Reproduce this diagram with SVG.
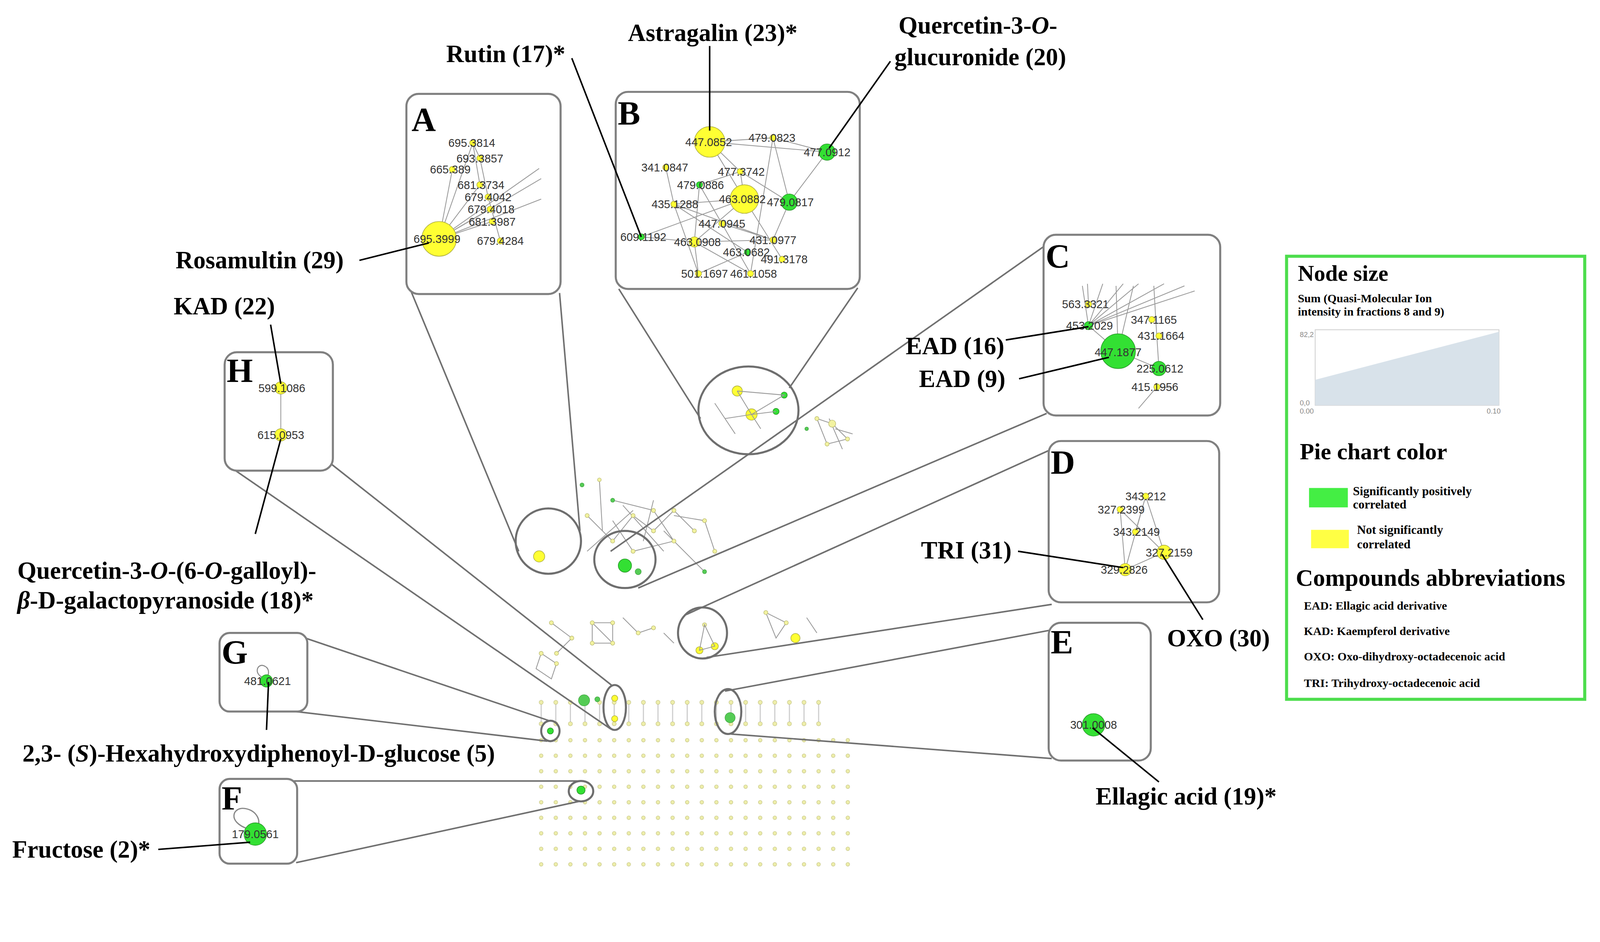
<svg xmlns="http://www.w3.org/2000/svg" width="4372" height="2412" viewBox="0 0 4372 2412">
<defs>
<style>
.pan{fill:#fff;stroke:#808080;stroke-width:2}
.mag{fill:none;stroke:#6e6e6e;stroke-width:2}
.tl{stroke:#707070;stroke-width:1.5;fill:none}
.ld{stroke:#000;stroke-width:1.5;fill:none}
.e{stroke:#999;stroke-width:0.8;fill:none}
.y{fill:#ffff33;stroke:#b0b040;stroke-width:0.6}
.g{fill:#33e033;stroke:#2a9a2a;stroke-width:0.6}
.sy{fill:#f2f2a0;stroke:#b8b870;stroke-width:0.5}
.sg{fill:#55cc55;stroke:#3a9a3a;stroke-width:0.4}
.lab{font-family:"Liberation Serif",serif;font-weight:bold;font-size:24px;fill:#000}
.pl{font-family:"Liberation Serif",serif;font-weight:bold;font-size:33px;fill:#000}
.nl{font-family:"Liberation Sans",Arial,sans-serif;font-size:11px;fill:#333;text-anchor:middle}
.lg{font-family:"Liberation Serif",serif;font-weight:bold;fill:#000}
.ax{font-family:"Liberation Sans",sans-serif;font-size:7px;fill:#888}
</style>
<pattern id="grid" x="525" y="720" width="14.3" height="15.2" patternUnits="userSpaceOnUse">
<circle cx="5" cy="5" r="1.8" fill="#eeeeaa" stroke="#bbbb77" stroke-width="0.4"/>
</pattern>
<pattern id="sticks" x="525" y="683" width="14.3" height="30" patternUnits="userSpaceOnUse">
<line x1="5" y1="5" x2="5" y2="26" stroke="#c8c8c8" stroke-width="1"/>
<circle cx="5" cy="5" r="2" fill="#eeeeaa" stroke="#bbbb77" stroke-width="0.4"/>
<circle cx="5" cy="26" r="2" fill="#eeeeaa" stroke="#bbbb77" stroke-width="0.4"/>
</pattern>
</defs>
<rect width="4372" height="2412" fill="#fff"/>
<g transform="scale(2.614)">
<g id="background">
<rect x="520" y="720" width="318" height="134" fill="url(#grid)"/>
<rect x="520" y="683" width="285" height="30" fill="url(#sticks)"/>
<g class="e">
<path d="M587,470 L590,520 M575,505 L600,530 L620,505 L640,520 L660,500 L680,520 M600,490 L640,500 L660,530 L620,540 L600,510 M610,495 L650,540 M640,490 L630,530 M575,540 L620,500 M660,505 L690,510 L700,540 M650,520 L690,560"/>
<path d="M800,410 L815,415 L830,430 L810,435 L800,410 M812,410 L825,440 M818,420 L835,425"/>
<path d="M540,610 L560,625 L545,640 M580,610 L600,610 L600,630 L580,630 Z M580,610 L600,630 M610,605 L625,620 L640,615 M750,600 L770,610 L760,625 Z M790,605 L800,620 M650,620 L660,630"/>
<path d="M530,640 L545,650 L540,665 L525,655 Z"/>
</g>
<g>
<circle class="sy" cx="587" cy="470" r="1.8"/><circle class="sy" cx="575" cy="505" r="2"/><circle class="sy" cx="600" cy="530" r="2"/>
<circle class="sy" cx="620" cy="505" r="2"/><circle class="sy" cx="640" cy="520" r="2"/><circle class="sy" cx="660" cy="500" r="2"/>
<circle class="sy" cx="680" cy="520" r="2"/><circle class="sg" cx="600" cy="490" r="2"/><circle class="sy" cx="640" cy="500" r="2"/>
<circle class="sy" cx="660" cy="530" r="2"/><circle class="sy" cx="620" cy="540" r="2"/><circle class="sy" cx="690" cy="510" r="2"/>
<circle class="sy" cx="700" cy="540" r="2"/><circle class="sg" cx="570" cy="475" r="2"/><circle class="sg" cx="690" cy="560" r="2"/>
<circle class="sy" cx="815" cy="415" r="3.5"/><circle class="sy" cx="830" cy="430" r="2"/><circle class="sy" cx="810" cy="435" r="2"/>
<circle class="sy" cx="800" cy="410" r="2"/><circle class="sg" cx="790" cy="420" r="1.8"/>
<circle class="sy" cx="540" cy="610" r="2"/><circle class="sy" cx="560" cy="625" r="2"/><circle class="sy" cx="545" cy="640" r="2"/>
<circle class="sy" cx="580" cy="610" r="2"/><circle class="sy" cx="600" cy="610" r="2"/><circle class="sy" cx="600" cy="630" r="2"/><circle class="sy" cx="580" cy="630" r="2"/>
<circle class="sy" cx="625" cy="620" r="2"/><circle class="sy" cx="640" cy="615" r="2"/><circle class="sy" cx="750" cy="600" r="2"/>
<circle class="sy" cx="770" cy="610" r="2"/><circle class="y" cx="779" cy="625" r="4.5"/><circle class="sg" cx="572" cy="686" r="5.5"/><circle class="sg" cx="585" cy="685" r="2.5"/>
<circle class="sy" cx="530" cy="640" r="2"/><circle class="sy" cx="545" cy="650" r="2"/>
<circle class="sg" cx="715" cy="703" r="5"/>
</g>
<circle class="y" cx="528" cy="545" r="5.5"/>
<circle class="g" cx="612" cy="554" r="6.5"/><circle class="sg" cx="625" cy="560" r="3"/>
<circle class="y" cx="722" cy="383" r="5"/><circle class="y" cx="736" cy="406" r="5.5"/><circle class="g" cx="768" cy="387" r="3"/><circle class="g" cx="760" cy="403" r="3"/>
<path class="e" d="M722,383 L768,387 L736,406 L760,403 M722,383 L736,406 M710,410 L736,406 L745,420 M700,395 L720,425"/>
<circle class="y" cx="685" cy="637" r="3.5"/><circle class="y" cx="700" cy="633" r="3.5"/><circle class="sy" cx="690" cy="612" r="2"/>
<path class="e" d="M690,612 L685,637 L700,633 Z"/>
<circle class="y" cx="602" cy="684" r="3"/><circle class="y" cx="602" cy="704" r="3"/>
<circle class="g" cx="539" cy="716" r="3"/>
<circle class="g" cx="569" cy="774" r="4"/>
</g>

<g id="connectors">
<ellipse class="mag" cx="537" cy="530" rx="32" ry="32"/>
<ellipse class="mag" cx="612" cy="548" rx="30" ry="28"/>
<ellipse class="mag" cx="733" cy="402" rx="49" ry="43"/>
<ellipse class="mag" cx="688" cy="620" rx="24" ry="25"/>
<ellipse class="mag" cx="602" cy="693" rx="11" ry="22"/>
<ellipse class="mag" cx="713" cy="697" rx="13" ry="22"/>
<ellipse class="mag" cx="539" cy="716" rx="9" ry="10"/>
<ellipse class="mag" cx="569" cy="775" rx="12" ry="10"/>
<path class="tl" d="M402,284 L508,540 M548,287 L568,520"/>
<path class="tl" d="M606,283 L686,410 M840,282 L773,380"/>
<path class="tl" d="M1030,236 L598,540 M1025,405 L625,576"/>
<path class="tl" d="M1030,440 L672,602 M1030,592 L692,644"/>
<path class="tl" d="M1030,617 L710,677 M1030,743 L716,719"/>
<path class="tl" d="M222,455 L598,714 M325,455 L600,672"/>
<path class="tl" d="M296,624 L538,706 M290,697 L536,726"/>
<path class="tl" d="M283,765 L566,765 M290,845 L567,785"/>
</g>

<g id="panelA">
<rect class="pan" x="398" y="92" width="151" height="196" rx="12"/>
<text class="pl" x="403" y="128">A</text>
<path class="e" d="M430,234 L463,140 L470,155 L478,193 L490,236 M430,234 L443,166 M430,234 L470,181 M430,234 L480,205 M430,234 L482,217 M430,234 L463,140 M430,234 L530,175 M430,234 L530,195 M430,234 L528,165 M463,140 L470,181"/>
<circle class="y" cx="430" cy="234" r="17"/>
<circle class="y" cx="463" cy="140" r="3"/><circle class="y" cx="470" cy="155" r="3"/><circle class="y" cx="443" cy="166" r="3"/>
<circle class="y" cx="470" cy="181" r="3"/><circle class="y" cx="478" cy="193" r="3"/><circle class="y" cx="480" cy="205" r="3"/>
<circle class="y" cx="482" cy="217" r="3"/><circle class="y" cx="490" cy="236" r="3"/>
<text class="nl" x="462" y="144">695.3814</text><text class="nl" x="470" y="159">693.3857</text><text class="nl" x="441" y="170">665.389</text>
<text class="nl" x="471" y="185">681.3734</text><text class="nl" x="478" y="197">679.4042</text><text class="nl" x="481" y="209">679.4018</text>
<text class="nl" x="482" y="221">681.3987</text><text class="nl" x="490" y="240">679.4284</text><text class="nl" x="428" y="238">695.3999</text>
</g>

<g id="panelB">
<rect class="pan" x="603" y="90" width="239" height="193" rx="12"/>
<text class="pl" x="605" y="122">B</text>
<path class="e" d="M695,139 L757,135 L810,149 M695,139 L810,149 M695,139 L725,168 L729,195 M695,139 L729,195 M757,135 L773,198 M757,135 L735,268 M810,149 L773,198 M725,168 L685,181 M725,168 L773,198 M685,181 L680,237 M685,181 L707,219 M660,200 L729,195 M660,200 L757,235 M660,200 L732,247 M628,232 L729,195 M628,232 L680,237 L757,235 M680,237 L729,195 M707,219 L757,235 M707,219 L735,268 M729,195 L766,254 M729,195 L680,237 M732,247 L684,268 M680,237 L735,268 M652,164 L660,200 M773,198 L757,235 M684,268 L680,237 M660,200 L684,268"/>
<circle class="y" cx="695" cy="139" r="15"/><circle class="y" cx="757" cy="135" r="3"/><circle class="g" cx="810" cy="149" r="8"/>
<circle class="y" cx="652" cy="164" r="3"/><circle class="y" cx="725" cy="168" r="3"/><circle class="g" cx="685" cy="181" r="3"/>
<circle class="y" cx="729" cy="195" r="14"/><circle class="g" cx="773" cy="198" r="8"/><circle class="y" cx="660" cy="200" r="3"/>
<circle class="y" cx="707" cy="219" r="3"/><circle class="g" cx="628" cy="232" r="3"/><circle class="y" cx="680" cy="237" r="5"/>
<circle class="y" cx="757" cy="235" r="3"/><circle class="g" cx="732" cy="247" r="3"/><circle class="y" cx="766" cy="254" r="3"/>
<circle class="y" cx="684" cy="268" r="3"/><circle class="y" cx="735" cy="268" r="3"/>
<text class="nl" x="694" y="143">447.0852</text><text class="nl" x="756" y="139">479.0823</text><text class="nl" x="810" y="153">477.0912</text>
<text class="nl" x="651" y="168">341.0847</text><text class="nl" x="726" y="172">477.3742</text><text class="nl" x="686" y="185">479.0886</text>
<text class="nl" x="727" y="199">463.0882</text><text class="nl" x="774" y="202">479.0817</text><text class="nl" x="661" y="204">435.1288</text>
<text class="nl" x="707" y="223">447.0945</text><text class="nl" x="630" y="236">609.1192</text><text class="nl" x="683" y="241">463.0908</text>
<text class="nl" x="757" y="239">431.0977</text><text class="nl" x="731" y="251">463.0682</text><text class="nl" x="768" y="258">491.3178</text>
<text class="nl" x="690" y="272">501.1697</text><text class="nl" x="738" y="272">461.1058</text>
</g>

<g id="panelC">
<rect class="pan" x="1022" y="230" width="173" height="177" rx="12"/>
<text class="pl" x="1024" y="262">C</text>
<path class="e" d="M1066,319 L1060,280 M1066,319 L1080,278 M1066,319 L1100,278 M1066,319 L1115,278 M1066,319 L1140,278 M1066,319 L1160,280 M1066,319 L1170,285 M1066,298 L1065,278 M1095,344 L1093,280 M1095,344 L1110,280 M1132,315 L1130,280 M1135,361 L1132,315 M1135,361 L1095,344 M1133,379 L1115,400 M1133,379 L1150,380 M1066,319 L1095,344"/>
<circle class="y" cx="1066" cy="298" r="3"/><circle class="g" cx="1066" cy="319" r="4"/><circle class="g" cx="1095" cy="344" r="17"/>
<circle class="y" cx="1128" cy="313" r="3"/><circle class="y" cx="1135" cy="329" r="3"/><circle class="g" cx="1135" cy="361" r="7"/><circle class="y" cx="1133" cy="379" r="3"/>
<text class="nl" x="1063" y="302">563.3321</text><text class="nl" x="1067" y="323">453.2029</text><text class="nl" x="1095" y="349">447.1877</text>
<text class="nl" x="1130" y="317">347.1165</text><text class="nl" x="1137" y="333">431.1664</text><text class="nl" x="1136" y="365">225.0612</text><text class="nl" x="1131" y="383">415.1956</text>
</g>

<g id="panelD">
<rect class="pan" x="1027" y="432" width="167" height="158" rx="12"/>
<text class="pl" x="1029" y="464">D</text>
<path class="e" d="M1097,499 L1140,541 M1097,499 L1102,558 L1122,486 L1140,541 M1102,558 L1140,541 M1112,521 L1122,486"/>
<circle class="y" cx="1122" cy="486" r="3"/><circle class="y" cx="1097" cy="499" r="3"/><circle class="y" cx="1112" cy="521" r="3"/>
<circle class="y" cx="1140" cy="541" r="7"/><circle class="y" cx="1102" cy="558" r="6"/>
<text class="nl" x="1122" y="490">343.212</text><text class="nl" x="1098" y="503">327.2399</text><text class="nl" x="1113" y="525">343.2149</text>
<text class="nl" x="1145" y="545">327.2159</text><text class="nl" x="1101" y="562">329.2826</text>
</g>

<g id="panelE">
<rect class="pan" x="1027" y="610" width="100" height="135" rx="12"/>
<text class="pl" x="1029" y="640">E</text>
<circle class="g" cx="1071" cy="710" r="11"/>
<text class="nl" x="1071" y="714">301.0008</text>
</g>

<g id="panelH">
<rect class="pan" x="220" y="345" width="106" height="116" rx="12"/>
<text class="pl" x="222" y="374">H</text>
<line class="e" x1="275" y1="380" x2="275" y2="426"/>
<circle class="y" cx="275" cy="380" r="6"/><circle class="y" cx="275" cy="426" r="6"/>
<text class="nl" x="276" y="384">599.1086</text><text class="nl" x="275" y="430">615.0953</text>
</g>

<g id="panelG">
<rect class="pan" x="215" y="620" width="86" height="77" rx="10"/>
<text class="pl" x="217" y="650">G</text>
<path class="e" style="stroke:#888;stroke-width:1" d="M258,664 C248,660 252,650 258,652 C264,654 264,660 261,664"/>
<circle class="g" cx="261" cy="667" r="6"/>
<text class="nl" x="262" y="671">481.0621</text>
</g>

<g id="panelF">
<rect class="pan" x="215" y="763" width="76" height="83" rx="10"/>
<text class="pl" x="217" y="793">F</text>
<path class="e" style="stroke:#888;stroke-width:1.2" d="M243,812 C222,805 228,790 240,792 C252,794 256,805 252,810"/>
<circle class="g" cx="250" cy="817" r="11"/>
<text class="nl" x="250" y="821">179.0561</text>
</g>

<g id="leaders">
<path class="ld" d="M560,57 L628,232"/>
<path class="ld" d="M695,45 L695,128"/>
<path class="ld" d="M872,60 L812,145"/>
<path class="ld" d="M352,255 L420,238"/>
<path class="ld" d="M265,318 L275,376"/>
<path class="ld" d="M250,523 L275,430"/>
<path class="ld" d="M985,333 L1066,320"/>
<path class="ld" d="M998,371 L1086,350"/>
<path class="ld" d="M997,540 L1100,556"/>
<path class="ld" d="M1178,607 L1138,543"/>
<path class="ld" d="M1135,766 L1070,713"/>
<path class="ld" d="M261,715 L263,668"/>
<path class="ld" d="M155,832 L245,825"/>
</g>

<g id="labels">
<text class="lab" x="437" y="61">Rutin (17)*</text>
<text class="lab" x="615" y="40">Astragalin (23)*</text>
<text class="lab" x="880" y="33">Quercetin-3-<tspan font-style="italic">O</tspan>-</text>
<text class="lab" x="876" y="64">glucuronide (20)</text>
<text class="lab" x="172" y="263">Rosamultin (29)</text>
<text class="lab" x="170" y="308">KAD (22)</text>
<text class="lab" x="17" y="567">Quercetin-3-<tspan font-style="italic">O</tspan>-(6-<tspan font-style="italic">O</tspan>-galloyl)-</text>
<text class="lab" x="17" y="596"><tspan font-style="italic">β</tspan>-D-galactopyranoside (18)*</text>
<text class="lab" x="887" y="347">EAD (16)</text>
<text class="lab" x="900" y="379">EAD (9)</text>
<text class="lab" x="902" y="547">TRI (31)</text>
<text class="lab" x="1143" y="633">OXO (30)</text>
<text class="lab" x="1073" y="788">Ellagic acid (19)*</text>
<text class="lab" x="22" y="746">2,3- (<tspan font-style="italic">S</tspan>)-Hexahydroxydiphenoyl-D-glucose (5)</text>
<text class="lab" x="12" y="840">Fructose (2)*</text>
</g>

<g id="legend">
<rect x="1260" y="251" width="292" height="434" fill="#fff" stroke="#4ddd4d" stroke-width="3"/>
<text class="lg" x="1271" y="275" font-size="22">Node size</text>
<text class="lg" x="1271" y="296" font-size="11.5">Sum (Quasi-Molecular Ion</text>
<text class="lg" x="1271" y="309" font-size="11.5">intensity in fractions 8 and 9)</text>
<rect x="1288" y="323" width="180" height="74" fill="#fff" stroke="#d0d0d0" stroke-width="0.8"/>
<polygon points="1288,372 1468,325 1468,397 1288,397" fill="#d8e2ea"/>
<text class="ax" x="1273" y="330">82,2</text><text class="ax" x="1273" y="397">0,0</text>
<text class="ax" x="1273" y="405">0.00</text><text class="ax" x="1456" y="405">0.10</text>
<text class="lg" x="1273" y="450" font-size="23">Pie chart color</text>
<rect x="1282" y="478" width="38" height="19" fill="#44ee44"/>
<text class="lg" x="1325" y="485" font-size="12">Significantly positively</text>
<text class="lg" x="1325" y="498" font-size="12">correlated</text>
<rect x="1284" y="519" width="37" height="18" fill="#ffff44"/>
<text class="lg" x="1329" y="523" font-size="12">Not significantly</text>
<text class="lg" x="1329" y="537" font-size="12">correlated</text>
<text class="lg" x="1269" y="574" font-size="23.5">Compounds abbreviations</text>
<text class="lg" x="1277" y="597" font-size="11.5">EAD: Ellagic acid derivative</text>
<text class="lg" x="1277" y="622" font-size="11.5">KAD: Kaempferol derivative</text>
<text class="lg" x="1277" y="647" font-size="11.5">OXO: Oxo-dihydroxy-octadecenoic acid</text>
<text class="lg" x="1277" y="673" font-size="11.5">TRI: Trihydroxy-octadecenoic acid</text>
</g>
</g>
</svg>
